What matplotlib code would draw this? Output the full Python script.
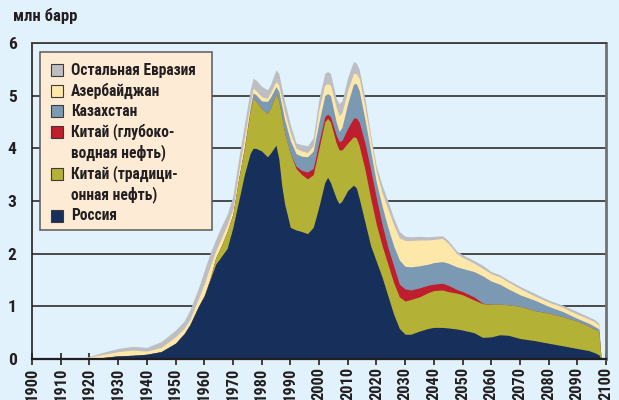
import numpy as np
import matplotlib
matplotlib.use('Agg')
import matplotlib.pyplot as plt
from matplotlib.patches import Rectangle
from matplotlib import font_manager

# years of the curve
years = [1917, 1920, 1925, 1930, 1935, 1940, 1945, 1950, 1953, 1955, 1958, 1960,
         1962, 1964, 1966, 1968, 1970, 1972, 1974, 1976, 1977, 1978, 1980, 1982,
         1983, 1985, 1986, 1987, 1988, 1990, 1992, 1994, 1996, 1998, 2000, 2002,
         2003, 2004, 2006, 2007, 2008, 2010, 2012, 2013, 2014, 2016, 2018, 2020,
         2022, 2024, 2026, 2028, 2030, 2032, 2035, 2038, 2040, 2043, 2045, 2048,
         2050, 2054, 2057, 2060, 2063, 2066, 2070, 2075, 2080, 2085, 2090, 2094,
         2096, 2097.5, 2098.3]

# production by region, mln barrels
russia = [0, .01, .03, .06, .07, .09, .14, .30, .48, .65, 1.0, 1.2,
          1.5, 1.8, 1.95, 2.1, 2.5, 3.0, 3.5, 3.9, 4.0, 4.0, 3.95, 3.84,
          3.9, 4.06, 3.8, 3.3, 2.95, 2.5, 2.45, 2.42, 2.38, 2.5, 2.9, 3.35,
          3.45, 3.35, 3.05, 2.95, 3.0, 3.2, 3.3, 3.25, 3.05, 2.6, 2.15, 1.85,
          1.55, 1.2, .85, .58, .47, .47, .53, .58, .60, .60, .59, .57,
          .55, .50, .41, .42, .46, .45, .39, .35, .30, .25, .20, .16,
          .12, .08, 0]
china_trad = [0, 0, 0, 0, 0, 0, 0, 0, 0, 0, 0, 0,
              .02, .12, .20, .32, .25, .42, .50, .80, .95, .90, .80, .82,
              .85, .97, 1.10, 1.30, 1.35, 1.40, 1.17, 1.08, 1.04, 1.0, 1.1, 1.15,
              1.12, 1.15, 1.05, 1.02, .97, .90, .92, .95, 1.0, 1.0, .90, .70,
              .60, .60, .60, .60, .63, .66, .65, .68, .70, .71, .69, .68,
              .67, .62, .64, .62, .58, .58, .61, .57, .57, .55, .52, .46,
              .45, .45, 0]
china_deep = [0, 0, 0, 0, 0, 0, 0, 0, 0, 0, 0, 0,
              0, 0, 0, 0, 0, 0, 0, 0, 0, 0, 0, 0,
              0, 0, 0, 0, 0, 0, .04, .08, .13, .12, .12, .10,
              .08, .10, .15, .16, .18, .28, .35, .38, .45, .50, .55, .50,
              .40, .32, .32, .24, .23, .18, .17, .14, .12, .13, .12, .07,
              .06, .06, .01, 0, 0, 0, 0, 0, 0, 0, 0, 0,
              0, 0, 0]
kazakhstan = [0, 0, 0, 0, 0, 0, 0, 0, 0, 0, 0, 0,
              0, 0, 0, 0, 0, 0, .03, .06, .10, .12, .15, .23,
              .21, .14, .18, .22, .25, .25, .24, .27, .29, .33, .38, .40,
              .39, .40, .25, .19, .25, .47, .65, .65, .60, .45, .35, .30,
              .35, .38, .38, .46, .43, .44, .42, .40, .41, .41, .42, .43,
              .44, .48, .52, .44, .38, .30, .22, .20, .13, .10, .05, .06,
              .05, .04, 0]
azerbaijan = [0, .03, .06, .08, .10, .06, .08, .12, .10, .10, .15, .22,
              .23, .13, .15, .13, .10, .13, .17, .09, .09, .08, .08, .06,
              .09, .10, .12, .13, .15, .15, .10, .10, .08, .10, .25, .20,
              .19, .20, .28, .30, .28, .25, .20, .19, .23, .25, .20, .20,
              .25, .35, .40, .42, .49, .50, .49, .46, .44, .44, .38, .25,
              .21, .16, .14, .14, .14, .13, .12, .08, .08, .08, .08, .08,
              .09, .07, 0]
other = [0, .01, .04, .06, .07, .07, .11, .13, .14, .18, .20, .26,
         .25, .22, .22, .20, .25, .25, .25, .25, .19, .20, .20, .16,
         .15, .22, .22, .20, .20, .15, .10, .12, .13, .15, .20, .22,
         .23, .22, .17, .23, .22, .25, .23, .20, .17, .15, .10, .10,
         .15, .15, .13, .12, .08, .07, .07, .06, .06, .05, .05, .05,
         .05, .05, .06, .04, .04, .04, .04, .05, .04, .04, .05, .04,
         .04, .04, 0]

series = [russia, china_trad, china_deep, kazakhstan, azerbaijan, other]
labels = ["Россия", "Китай (традици-\nонная нефть)", "Китай (глубоко-\nводная нефть)",
          "Казахстан", "Азербайджан", "Остальная Евразия"]
colors = ["#172F5B", "#B4B137", "#BE1E2D", "#7C99B3", "#FDE8A9", "#BDBEC2"]

x_ticks = list(range(1900, 2101, 10))
y_ticks = list(range(0, 7))

bg = "#E1F2FC"

# the original uses a bold condensed face; pick the narrowest one installed
fonts = font_manager.fontManager.ttflist
names = {f.name for f in fonts}
family, stretch, narrow = 'Roboto', 'normal', False
for cand in ['Liberation Sans Narrow', 'Roboto Condensed', 'Open Sans Condensed',
             'Noto Sans Condensed', 'Arial Narrow']:
    if cand in names:
        family, narrow = cand, True
        break
else:
    for fam in ['DejaVu Sans', 'Noto Sans', 'Open Sans', 'Roboto']:
        if any(f.name == fam and 'condensed' in str(f.stretch) for f in fonts):
            family, stretch, narrow = fam, 'condensed', True
            break
    else:
        if 'Roboto' not in names:
            family = 'Liberation Sans'
plt.rcParams['font.family'] = [family, 'DejaVu Sans']
plt.rcParams['font.stretch'] = stretch
plt.rcParams['font.weight'] = 'bold'
fs_tick = 11.8 if narrow else 9.5
fs_leg = 11.2 if narrow else 9.3
fs_y = 12.5 if narrow else 11.5

W, H = 619, 400
def fx(x):
    return x / W
def fy(y):
    return 1 - y / H

fig = plt.figure(figsize=(W / 100, H / 100), dpi=100, facecolor=bg)
ax = fig.add_axes([fx(32), fy(359), (606 - 32) / W, (359 - 43) / H])
ax.set_facecolor(bg)

# cumulative tops, drawn from the top layer down so no seams show
tops = np.cumsum(np.array(series, dtype=float), axis=0)
for top, c in reversed(list(zip(tops, colors))):
    ax.fill_between(years, 0, top, color=c, lw=0, zorder=2)

ax.set_xlim(1900, 2100)
ax.set_ylim(0, 6)
ax.set_xticks(x_ticks)
ax.set_xticklabels([str(t) for t in x_ticks], rotation=90, fontsize=fs_tick,
                   fontweight='bold', color='#231F20')
ax.set_yticks(y_ticks)
ax.set_yticklabels([str(t) for t in y_ticks], fontsize=fs_y, fontweight='bold',
                   color='#231F20')
ax.tick_params(axis='x', direction='inout', length=9, width=1.2, pad=1.5, color='#231F20')
ax.tick_params(axis='y', length=0, pad=11)
ax.set_axisbelow(True)
ax.yaxis.grid(True, color='#3C3C3C', lw=1.3, zorder=0)

ax.spines['left'].set_color('#231F20')
ax.spines['left'].set_linewidth(1.2)
ax.spines['bottom'].set_color('#231F20')
ax.spines['bottom'].set_linewidth(1.6)
ax.spines['bottom'].set_zorder(3)
ax.spines['top'].set_color('#3C3C3C')
ax.spines['top'].set_linewidth(1.3)
ax.spines['right'].set_color('#707070')
ax.spines['right'].set_linewidth(2)

fig.text(fx(13), fy(8), "млн барр", fontsize=12, fontweight='bold',
         color='#231F20', va='top', ha='left')

# legend box drawn by hand
fig.add_artist(Rectangle((fx(40), fy(230)), (212 - 40) / W, (230 - 52) / H,
                         transform=fig.transFigure, facecolor='#FDEBD6',
                         edgecolor='#5A5A5A', lw=1.1, zorder=5))
rows = [70, 91, 111, 132, 174, 216]
for y0, lab, c in zip(rows, labels[::-1], colors[::-1]):
    fig.add_artist(Rectangle((fx(51), fy(y0 + 6)), 12 / W, 12 / H,
                             transform=fig.transFigure, facecolor=c,
                             edgecolor='#3A3A3A', lw=0.8, zorder=6))
    for i, line in enumerate(lab.split("\n")):
        fig.text(fx(71), fy(y0 + i * 21), line, fontsize=fs_leg, fontweight='bold',
                 color='#231F20', va='center', ha='left', zorder=7)

fig.savefig("out.png", dpi=100, facecolor=bg)
